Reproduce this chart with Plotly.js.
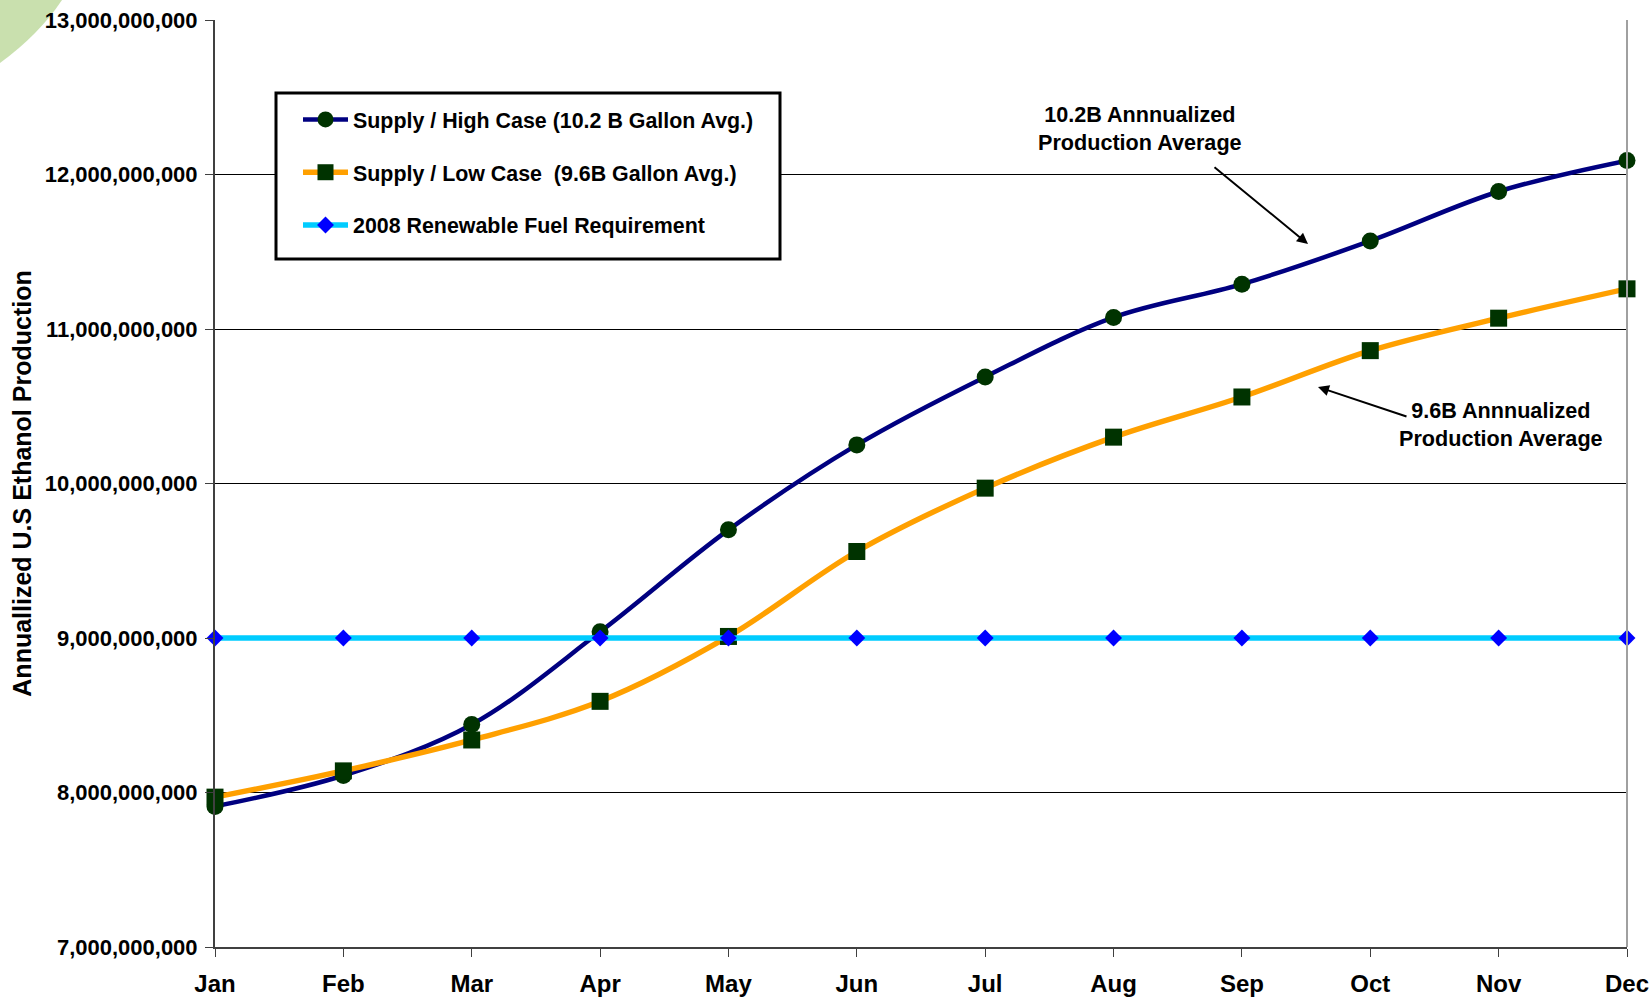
<!DOCTYPE html>
<html>
<head>
<meta charset="utf-8">
<script src="https://cdn.plot.ly/plotly-3.0.1.min.js"></script>
<style>
html,body{margin:0;padding:0;background:#fff;}
#chart{width:1652px;height:998px;}
</style>
</head>
<body>
<div id="chart"></div>
<script>
// ---- data ----
const months = ["Jan","Feb","Mar","Apr","May","Jun","Jul","Aug","Sep","Oct","Nov","Dec"];
const highCase = [7.91e9, 8.11e9, 8.44e9, 9.04e9, 9.70e9, 10.25e9, 10.69e9, 11.075e9, 11.29e9, 11.57e9, 11.89e9, 12.09e9];
const lowCase  = [7.97e9, 8.14e9, 8.34e9, 8.59e9, 9.01e9, 9.56e9, 9.97e9, 10.30e9, 10.56e9, 10.86e9, 11.07e9, 11.26e9];
const requirement = [9e9, 9e9, 9e9, 9e9, 9e9, 9e9, 9e9, 9e9, 9e9, 9e9, 9e9, 9e9];
const seriesNames = ["Supply / High Case (10.2 B Gallon Avg.)", "Supply / Low Case  (9.6B Gallon Avg.)", "2008 Renewable Fuel Requirement"];
const yAxisTitle = "Annuallized U.S Ethanol Production";
const note1 = "10.2B Annnualized<br>Production Average";
const note2 = "9.6B Annnualized<br>Production Average";

// ---- layout geometry ----
const W = 1652, H = 998;
const L = 215, R = 1627, T = 20, B = 947;
const px = x => (x - L) / (R - L);
const py = y => (B - y) / (B - T);
const FONT = "Liberation Sans, Arial, Helvetica, sans-serif";
const bold = (size, color) => ({family: FONT, size: size, color: color || "#000", weight: 700});

const traces = [
  {
    x: months, y: highCase, name: seriesNames[0], type: "scatter", mode: "lines+markers",
    line: {color: "#000080", width: 4.5, shape: "spline", smoothing: 1},
    marker: {symbol: "circle", size: 17, color: "#003300"},
    cliponaxis: false, legendgroup: "a"
  },
  {
    x: months, y: lowCase, name: seriesNames[1], type: "scatter", mode: "lines+markers",
    line: {color: "#FFA000", width: 5.4, shape: "spline", smoothing: 1},
    marker: {symbol: "square", size: 17, color: "#003300"},
    cliponaxis: false, legendgroup: "b"
  },
  {
    x: months, y: requirement, name: seriesNames[2], type: "scatter", mode: "lines+markers",
    line: {color: "#00CCFF", width: 5.4},
    marker: {symbol: "diamond", size: 13, color: "#0000FF"},
    cliponaxis: false, legendgroup: "c"
  }
];

const layout = {
  width: W, height: H,
  margin: {l: L, r: W - R, t: T, b: H - B, pad: 0},
  paper_bgcolor: "#fff", plot_bgcolor: "#fff",
  showlegend: true,
  legend: {
    x: px(298), y: py(99), xanchor: "left", yanchor: "top",
    bgcolor: "rgba(0,0,0,0)", borderwidth: 0,
    font: bold(21.4), traceorder: "grouped", tracegroupgap: 22,
    itemwidth: 45
  },
  xaxis: {
    type: "category", range: [0, 11], fixedrange: true,
    showline: true, linecolor: "#404040", linewidth: 2,
    ticks: "outside", ticklen: 8, tickwidth: 1, tickcolor: "#404040",
    showgrid: false, zeroline: false,
    tickfont: bold(24), ticklabelstandoff: 6
  },
  yaxis: {
    range: [7e9, 13e9], dtick: 1e9, tick0: 7e9, tickformat: ",d",
    showline: true, linecolor: "#404040", linewidth: 2,
    ticks: "outside", ticklen: 8, tickwidth: 1, tickcolor: "#404040",
    showgrid: true, gridcolor: "#000", gridwidth: 1, zeroline: false,
    tickfont: bold(22), ticklabelstandoff: 3,
    title: {text: yAxisTitle, font: bold(25), standoff: 6}
  },
  shapes: [
    // decorative green corner
    {type: "path", xref: "paper", yref: "paper", layer: "below",
     path: `M ${px(0)} ${py(0)} L ${px(62)} ${py(0)} Q ${px(39)} ${py(34.5)} ${px(0)} ${py(63)} Z`,
     fillcolor: "#C9E0AE", line: {width: 0}},
    // right border
    {type: "line", xref: "paper", yref: "paper", x0: 1, x1: 1, y0: 0, y1: 1,
     line: {color: "#A0A0A0", width: 2}},
    // legend box
    {type: "rect", xref: "paper", yref: "paper", x0: px(276), x1: px(780), y0: py(93), y1: py(259),
     line: {color: "#000", width: 3}, fillcolor: "rgba(255,255,255,1)", layer: "above"}
  ],
  annotations: [
    {xref: "paper", yref: "paper", x: px(1140), y: py(129), text: note1, showarrow: false,
     font: bold(21.6), align: "center", xanchor: "center", yanchor: "middle"},
    {xref: "paper", yref: "paper", x: px(1501), y: py(424), text: note2, showarrow: false,
     font: bold(21.6), align: "center", xanchor: "center", yanchor: "middle"},
    {xref: "paper", yref: "paper", x: px(1308), y: py(244), ax: -95, ay: -78, text: "",
     showarrow: true, arrowhead: 2, arrowsize: 1.1, arrowwidth: 2, arrowcolor: "#000"},
    {xref: "paper", yref: "paper", x: px(1318), y: py(387), ax: 90, ay: 30, text: "",
     showarrow: true, arrowhead: 2, arrowsize: 1.1, arrowwidth: 2, arrowcolor: "#000"}
  ]
};

Plotly.newPlot("chart", traces, layout, {displayModeBar: false, staticPlot: true});
</script>
</body>
</html>
